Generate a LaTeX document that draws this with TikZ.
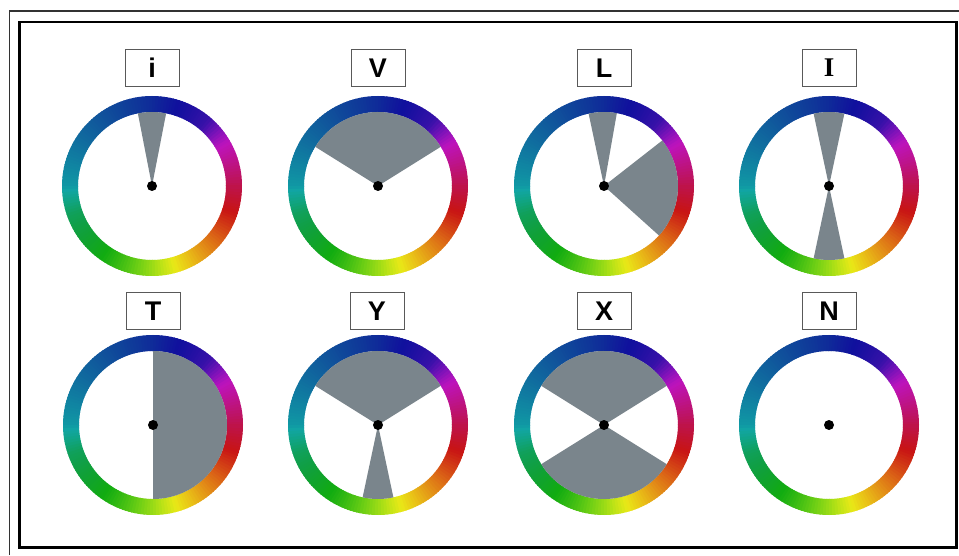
\documentclass[tikz,border=0pt]{standalone}
\usepackage{fontspec}
\setmainfont{Liberation Sans}
\newfontfamily\serifbold{Liberation Serif}
\definecolor{sectorgray}{RGB}{122,133,140}
\pgfmathdeclarefunction{part}{3}{\pgfmathparse{min(max(#1-#2,0),#3)}}

\begin{document}
\begin{tikzpicture}[x=1pt, y=1pt,
        tag/.style = {draw=black!65, line width=0.9pt, fill=white, minimum width=54pt, minimum height=37pt, inner sep=0pt, font=\bfseries\fontsize{27}{27}\selectfont},
        sector/.style = {fill=sectorgray},
        hub/.style = {fill=black}]

    \fill[white] (0,0) rectangle (959,555);
    \useasboundingbox (0,0) rectangle (959,555);

    % frames
    \draw[black!80, line width=1.3pt] (9.5,0) -- (9.5,544) -- (959,544);
    \draw[black, line width=2.8pt] (19.5,7.5) rectangle (956.5,533);

    % hue rings
    \foreach \n/\cx/\cy in {1/152/369, 2/378/369, 3/604/369, 4/829/369, 5/153/130, 6/378/130, 7/604/130, 8/829/130} {
        \coordinate (w\n) at (\cx,\cy);
        \foreach \a in {0,2,...,358} {
            \pgfmathsetmacro\tc{mod(449-\a,360)}
            \pgfmathsetmacro\hue{228+27/40*part(\tc,0,40)+45/20*part(\tc,40,20)+40/30*part(\tc,60,30)
                +45/40*part(\tc,90,40)+30/30*part(\tc,130,30)+25/20*part(\tc,160,20)+40/35*part(\tc,180,35)
                +30/35*part(\tc,215,35)+35/20*part(\tc,250,20)+15/30*part(\tc,270,30)+28/60*part(\tc,300,60)}
            \pgfmathsetmacro\hue{mod(\hue,360)}
            \pgfmathsetmacro\cy{max(0,cos(\hue-60))}
            \pgfmathsetmacro\cb{max(0,cos(\hue-225))}
            \pgfmathsetmacro\cg{max(0,cos(\hue-135))}
            \pgfmathsetmacro\bri{0.74+0.18*\cy*\cy-0.14*\cb*\cb*\cb*\cb-0.12*\cg*\cg}
            \definecolor{seg}{Hsb}{\hue,0.9,\bri}
            \fill[seg, shift={(w\n)}] (\a:74pt) arc[start angle=\a, end angle=\a+2.6, radius=74pt]
                -- (\a+2.6:90pt) arc[start angle=\a+2.6, end angle=\a, radius=90pt] -- cycle;
        }
    }

    % Step 1: i
    \node[tag] (tag-i) at (152,487) {i};
    \fill[sector] (w1) -- ++(79:74pt) arc[start angle=79, end angle=101, radius=74pt] -- cycle;

    % Step 2: V
    \node[tag] (tag-V) at (378,487) {V};
    \fill[sector] (w2) -- ++(32:74pt) arc[start angle=32, end angle=148, radius=74pt] -- cycle;

    % Step 3: L
    \node[tag] (tag-L) at (604,487) {L};
    \fill[sector] (w3) -- ++(80:74pt) arc[start angle=80, end angle=102, radius=74pt] -- cycle;
    \fill[sector] (w3) -- ++(-42:74pt) arc[start angle=-42, end angle=38, radius=74pt] -- cycle;

    % Step 4: I
    \node[tag] (tag-I) at (829,487) {\serifbold I};
    \fill[sector] (w4) -- ++(78:74pt) arc[start angle=78, end angle=102, radius=74pt] -- cycle;
    \fill[sector] (w4) -- ++(258:74pt) arc[start angle=258, end angle=282, radius=74pt] -- cycle;

    % Step 5: T
    \node[tag] (tag-T) at (153,244) {T};
    \fill[sector] (w5) -- ++(-90:74pt) arc[start angle=-90, end angle=90, radius=74pt] -- cycle;

    % Step 6: Y
    \node[tag] (tag-Y) at (377,244) {Y};
    \fill[sector] (w6) -- ++(32:74pt) arc[start angle=32, end angle=148, radius=74pt] -- cycle;
    \fill[sector] (w6) -- ++(258:74pt) arc[start angle=258, end angle=282, radius=74pt] -- cycle;

    % Step 7: X
    \node[tag] (tag-X) at (604,244) {X};
    \fill[sector] (w7) -- ++(32:74pt) arc[start angle=32, end angle=148, radius=74pt] -- cycle;
    \fill[sector] (w7) -- ++(212:74pt) arc[start angle=212, end angle=328, radius=74pt] -- cycle;

    % Step 8: N
    \node[tag] (tag-N) at (829,244) {N};

    \foreach \n in {1,...,8} \fill[hub] (w\n) circle[radius=5pt];
\end{tikzpicture}
\end{document}
